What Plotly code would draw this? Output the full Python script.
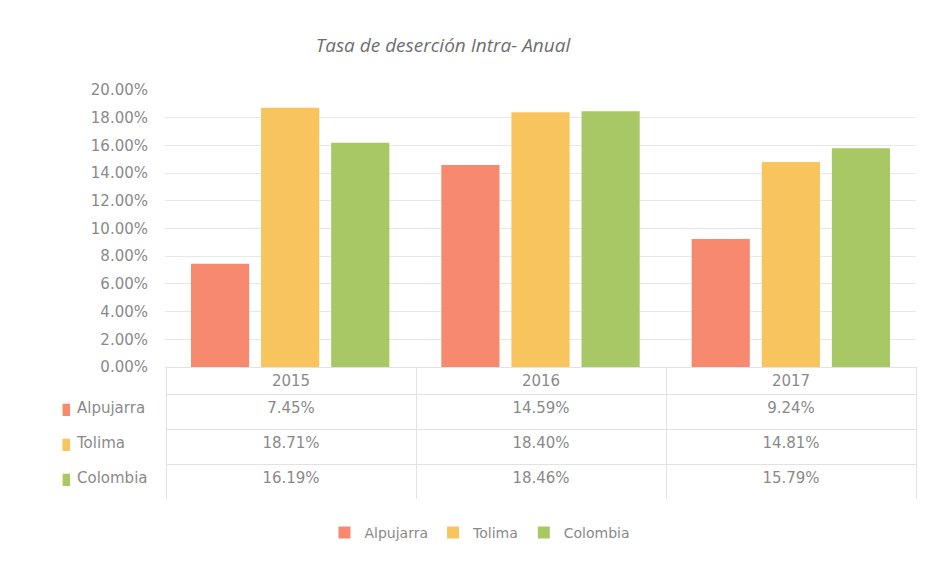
import plotly.graph_objects as go

years = ["2015", "2016", "2017"]
series_names = ["Alpujarra", "Tolima", "Colombia"]
alpujarra = [0.0745, 0.1459, 0.0924]
tolima = [0.1871, 0.1840, 0.1481]
colombia = [0.1619, 0.1846, 0.1579]
y_ticks = [0.00, 0.02, 0.04, 0.06, 0.08, 0.10, 0.12, 0.14, 0.16, 0.18, 0.20]

colors = ["#F7896E", "#F8C45E", "#A8C765"]
values = [alpujarra, tolima, colombia]
text_color = "#8a8a8a"
font_main = "DejaVu Sans"

# page body has an 8px margin, so the figure is laid out 8px left/up of the target pixels
W, H = 922, 554
OFF = 8


def px_x(x):
    return (x - OFF) / W


def px_y(y):
    return 1 - (y - OFF) / H


fig = go.Figure()
for name, vals, col in zip(series_names, values, colors):
    fig.add_trace(go.Bar(x=years, y=vals, name=name, marker=dict(color=col, line=dict(width=0)),
                         xaxis="x", yaxis="y"))

# data table under the chart: a key column of coloured squares, a label column, one column per year
key_cells = ["■" for _ in series_names]
year_cols = []
for i in range(len(years)):
    year_cols.append([f"{v[i]*100:.2f}%" for v in values])

grid_col = "#e2e2e2"
clear = "rgba(0,0,0,0)"
n_year = len(years)
fig.add_trace(go.Table(
    domain=dict(x=[px_x(53), px_x(916)], y=[px_y(500), px_y(367)]),
    columnwidth=[16, 97] + [250] * n_year,
    header=dict(values=["", ""] + years,
                fill_color=clear,
                line=dict(color=[clear, clear] + [grid_col] * n_year, width=1),
                font=dict(family=font_main, size=15, color=text_color),
                align="center", height=27),
    cells=dict(values=[key_cells, series_names] + year_cols,
               fill_color=clear,
               line=dict(color=[clear, clear] + [grid_col] * n_year, width=1),
               font=dict(family=font_main,
                         size=[16, 15] + [15] * n_year,
                         color=[colors, [text_color] * len(series_names)]
                               + [[text_color] * len(series_names)] * n_year),
               align=["left", "left"] + ["center"] * n_year, height=35),
))

fig.update_layout(
    width=W, height=H,
    margin=dict(l=0, r=0, t=0, b=0, autoexpand=False),
    paper_bgcolor="white", plot_bgcolor="white",
    title=dict(text="Tasa de deserción Intra- Anual", x=px_x(443), y=px_y(45),
               xanchor="center", yanchor="middle",
               font=dict(family="Open Sans", size=19, color="#6f6f6f", style="italic")),
    barmode="group", bargap=0.16, bargroupgap=0.17,
    xaxis=dict(domain=[px_x(165), px_x(916)], showticklabels=False, showgrid=False,
               showline=False, zeroline=False, ticks=""),
    yaxis=dict(domain=[px_y(367), px_y(90)], range=[0, 0.20], tickvals=y_ticks,
               tickformat=".2%", showgrid=True, gridcolor="#e8e8e8", gridwidth=1,
               zeroline=True, zerolinecolor="#dcdcdc", zerolinewidth=1,
               tickfont=dict(family=font_main, size=15, color=text_color), ticks="",
               ticklabelstandoff=16),
    legend=dict(orientation="h", x=px_x(480), xanchor="center", y=px_y(533), yanchor="middle",
                font=dict(family=font_main, size=14, color=text_color)),
    showlegend=True,
)

fig.write_html("out.html")
